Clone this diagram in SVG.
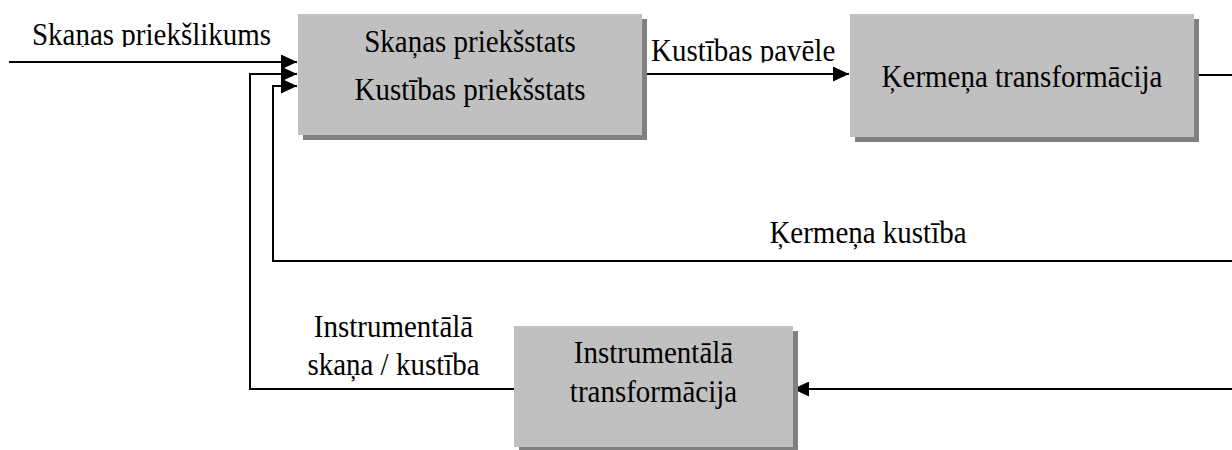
<svg xmlns="http://www.w3.org/2000/svg" width="1232" height="450" viewBox="0 0 1232 450">
  <style>
    .box { fill: #c0c0c0; }
    .shadow { fill: #808080; }
    .lbl { font-family: "Liberation Serif", "Times New Roman", serif; font-size: 29px; fill: #000; }
    .mid { text-anchor: middle; }
    .wire { fill: none; stroke: #000; stroke-width: 2; }
    .arrow { marker-end: url(#head); }
  </style>
  <defs>
    <marker id="head" markerUnits="userSpaceOnUse" markerWidth="16" markerHeight="15" refX="16" refY="7.5" orient="auto">
      <path d="M0,0 L16,7.5 L0,15 z" fill="#000"/>
    </marker>
    <!-- label frames crop the lower part of these two captions -->
    <clipPath id="clipInput"><rect x="0" y="0" width="300" height="47"/></clipPath>
    <clipPath id="clipCommand"><rect x="640" y="0" width="210" height="62.5"/></clipPath>
  </defs>

  <!-- connectors -->
  <g id="connectors">
    <line class="wire arrow" x1="9" y1="62" x2="297" y2="62"/>
    <line class="wire arrow" x1="642" y1="74" x2="849" y2="74"/>
    <line class="wire" x1="1194" y1="75" x2="1232" y2="75"/>
    <polyline class="wire arrow" points="1232,261 273,261 273,86 297,86"/>
    <line class="wire arrow" x1="1232" y1="389" x2="793" y2="389"/>
    <polyline class="wire arrow" points="514,389 250,389 250,74 297,74"/>
  </g>

  <!-- connector labels (type is slightly taller than wide) -->
  <g id="labels">
    <g clip-path="url(#clipInput)">
      <text class="lbl" transform="translate(32,45) scale(1,1.12)">Skaņas priekšlikums</text>
    </g>
    <g clip-path="url(#clipCommand)">
      <text class="lbl" transform="translate(651,61) scale(1,1.12)">Kustības pavēle</text>
    </g>
    <text class="lbl mid" transform="translate(868,243) scale(1,1.12)">Ķermeņa kustība</text>
    <text class="lbl mid" transform="translate(393.5,337) scale(1,1.12)">Instrumentālā</text>
    <text class="lbl mid" transform="translate(393.5,375) scale(1,1.12)">skaņa / kustība</text>
  </g>

  <g id="node-representations">
    <rect class="shadow" x="303" y="19" width="344" height="121"/>
    <rect class="box" x="298" y="14" width="344" height="121"/>
    <text class="lbl mid" transform="translate(470,52) scale(1,1.12)">Skaņas priekšstats</text>
    <text class="lbl mid" transform="translate(470,100) scale(1,1.12)">Kustības priekšstats</text>
  </g>

  <g id="node-body-transform">
    <rect class="shadow" x="855" y="19" width="344" height="123"/>
    <rect class="box" x="850" y="14" width="344" height="123"/>
    <text class="lbl mid" transform="translate(1022,87) scale(1,1.12)">Ķermeņa transformācija</text>
  </g>

  <g id="node-instrument-transform">
    <rect class="shadow" x="519" y="331" width="279" height="121"/>
    <rect class="box" x="514" y="326" width="279" height="121"/>
    <text class="lbl mid" transform="translate(653.5,363) scale(1,1.12)">Instrumentālā</text>
    <text class="lbl mid" transform="translate(653.5,402) scale(1,1.12)">transformācija</text>
  </g>
</svg>
